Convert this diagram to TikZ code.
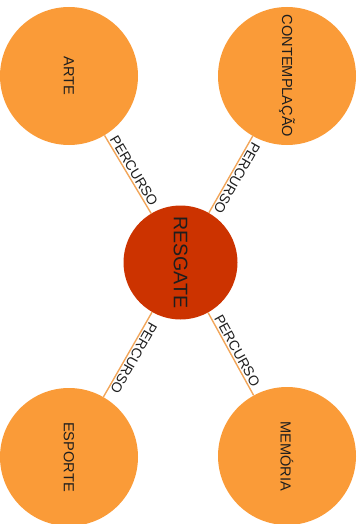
\documentclass[tikz,border=0pt]{standalone}
\usepackage{fontspec}
\setmainfont{Liberation Sans}
\usepackage{tikz}
\usetikzlibrary{positioning}
\definecolor{tema}{HTML}{FA9B38}
\definecolor{centro}{HTML}{CC3300}
\definecolor{trilha}{HTML}{F2A65A}
\definecolor{letra}{HTML}{1E1E1E}

\begin{document}
\begin{tikzpicture}[x=1pt, y=-1pt,
  tema/.style={circle, fill=tema, minimum size=138pt, inner sep=0pt, rotate=-90, font=\fontsize{14.6}{16}\selectfont, text=letra},
  nucleo/.style={circle, fill=centro, minimum size=114pt, inner sep=0pt, rotate=-90, font=\fontsize{19.6}{22}\selectfont, text=letra},
  via/.style={draw=trilha, line width=1.4pt},
  rot/.style={sloped, above, allow upside down, inner sep=1.5pt, font=\fontsize{14}{15}\selectfont, text=letra}]
\useasboundingbox (0,0) rectangle (363,524);
\node[nucleo] (resgate) at (180.5,262.5) {RESGATE};
\node[tema] (arte) at (69,76) {ARTE};
\node[tema] (contemp) at (287,76) {CONTEMPLAÇÃO};
\node[tema] (esporte) at (69,457) {ESPORTE};
\node[tema] (memoria) at (287,456) {MEMÓRIA};
\draw[via] (arte) -- node[rot] {PERCURSO} (resgate);
\draw[via] (contemp) -- node[rot] {PERCURSO} (resgate);
\draw[via] (resgate) -- node[rot] {PERCURSO} (esporte);
\draw[via] (resgate) -- node[rot] {PERCURSO} (memoria);
\end{tikzpicture}
\end{document}
